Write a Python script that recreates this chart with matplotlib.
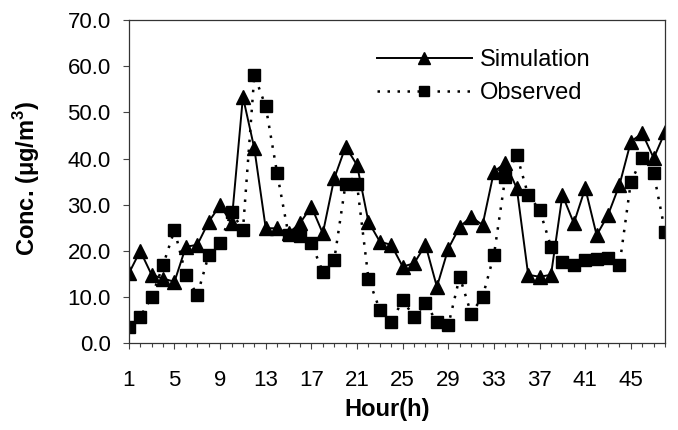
import matplotlib
matplotlib.use("Agg")
from matplotlib import pyplot as plt
from matplotlib.ticker import MultipleLocator

hours = list(range(1, 49))
simulation = [15.1, 20.0, 14.8, 14.0, 13.3, 20.9, 21.3, 26.3, 29.9, 26.0,
              53.4, 42.2, 24.9, 24.9, 23.8, 26.0, 29.6, 23.8, 35.7, 42.6,
              38.6, 26.3, 22.0, 21.3, 16.6, 17.3, 21.3, 12.2, 20.5, 25.2,
              27.4, 25.6, 37.2, 39.0, 33.6, 14.8, 14.4, 14.8, 32.1, 26.0,
              33.6, 23.4, 27.8, 34.3, 43.7, 45.5, 40.1, 45.8]
observed = [3.5, 5.7, 10.0, 16.9, 24.5, 14.8, 10.4, 19.1, 21.6, 28.5,
            24.5, 58.1, 51.3, 36.8, 23.4, 23.2, 21.6, 15.5, 18.0, 34.6,
            34.4, 14.0, 7.2, 4.6, 9.3, 5.7, 8.6, 4.6, 3.9, 14.4,
            6.4, 10.0, 19.1, 36.1, 40.8, 32.1, 28.9, 20.9, 17.6, 16.9,
            18.0, 18.3, 18.4, 16.9, 35.0, 40.1, 36.8, 24.1]
tick_labels = [1, 5, 9, 13, 17, 21, 25, 29, 33, 37, 41, 45]

plt.rcParams["font.family"] = ["Liberation Sans", "DejaVu Sans"]

fig = plt.figure(figsize=(6.78, 4.30), dpi=100)
ax = fig.add_axes([0.190, 0.202, 0.791, 0.751])

ax.plot(hours, simulation, color="black", linestyle="-", linewidth=1.4,
        marker="^", markersize=10, label="Simulation")
ax.plot(hours, observed, color="black", linestyle=(0, (1, 3)), linewidth=1.8,
        marker="s", markersize=8.5, label="Observed")

ax.set_xlim(1, 48)
ax.set_ylim(0, 70)
ax.set_xticks(tick_labels)
ax.set_xticklabels([str(t) for t in tick_labels])
ax.xaxis.set_minor_locator(MultipleLocator(1))
ax.set_yticks(range(0, 71, 10))
ax.set_yticklabels([f"{v:.1f}" for v in range(0, 71, 10)])

ax.tick_params(axis="both", which="major", labelsize=16, direction="out",
               length=4, width=0.8, color="#444444")
ax.tick_params(axis="x", which="minor", direction="out", length=3,
               width=0.8, color="#444444")
ax.tick_params(axis="x", which="major", pad=15)
ax.tick_params(axis="y", which="major", pad=9)
for s in ax.spines.values():
    s.set_linewidth(0.9)
    s.set_color("#333333")

ax.set_xlabel("Hour(h)", fontsize=17, fontweight="bold")
ax.xaxis.set_label_coords(0.481, -0.17)
ax.set_ylabel("Conc. (\u03bcg/m$^\\mathregular{3}$)", fontsize=17,
              fontweight="bold")
ax.yaxis.set_label_coords(-0.162, 0.51)

ax.legend(loc="upper left", bbox_to_anchor=(0.463, 0.91), frameon=False,
          borderaxespad=0, borderpad=0,
          fontsize=17, handlelength=4.0, handletextpad=0.35,
          labelspacing=0.45, markerscale=0.85)

fig.savefig("out.png", dpi=100)
